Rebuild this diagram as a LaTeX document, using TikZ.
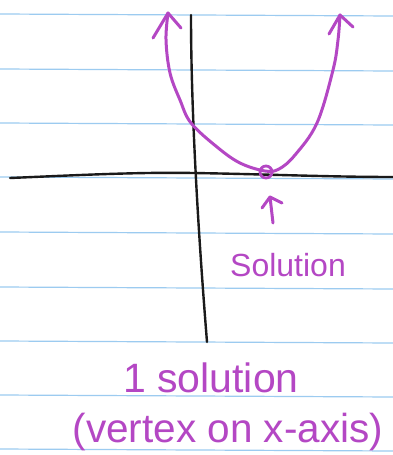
\documentclass[tikz,border=0pt]{standalone}
\usepackage{fontspec}
\setmainfont{Liberation Sans}
\definecolor{pen}{HTML}{B447C4}
\definecolor{rule}{HTML}{9CCBF0}
\definecolor{ink}{HTML}{1A1A1A}
\begin{document}
\begin{tikzpicture}[x=1pt,y=-1pt,
  ruleline/.style={draw=rule,line width=1.2pt},
  axis/.style={draw=ink,line width=2.4pt,line cap=round,line join=round},
  penline/.style={draw=pen,line width=3pt,line cap=round,line join=round},
  pentext/.style={text=pen,inner sep=0pt}]
\fill[white] (0,0) rectangle (393,455);
\useasboundingbox (0,0) rectangle (393,455);
% ruled paper
\foreach \yy in {14,69,123,177,232,287,341,395,449}
  \draw[ruleline] (0,\yy) -- (393,\yy+2);
% axes
\draw[axis] (10,178) .. controls (80,175) and (140,172) .. (193,173)
  .. controls (260,174) and (330,177) .. (393,177);
\draw[axis] (191,15) .. controls (191,110) and (198,230) .. (207,342);
% parabola
\coordinate (ltip) at (168,13);
\coordinate (rtip) at (340,15);
\draw[penline] plot[smooth,tension=0.6] coordinates {(ltip) (166,40) (170,73) (180,100) (191,123) (217,147) (240,163) (265,171) (279,169) (295,155) (317,123) (333,70) (338,40) (rtip)};
\draw[penline] (153,38) -- (ltip) -- (181,28);
\draw[penline] (329,34) -- (rtip) -- (353,27);
% vertex point
\node[draw=pen,line width=2.8pt,circle,minimum size=12pt,inner sep=0pt] (vtx) at (266,172) {};
\coordinate (atip) at (270,197);
\coordinate (atail) at (273,223);
\draw[penline] (atail) -- (atip);
\draw[penline] (262,208) -- (atip) -- (282,203);
% labels
\node[pentext,font=\fontsize{32}{36}\selectfont] (sol) at (288,265) {Solution};
\node[pentext,font=\fontsize{41}{44}\selectfont] (one) at (211,378) {1 solution};
\node[pentext,font=\fontsize{40.5}{44}\selectfont] (vert) at (228,432) {(vertex on x-axis)};
\end{tikzpicture}
\end{document}
